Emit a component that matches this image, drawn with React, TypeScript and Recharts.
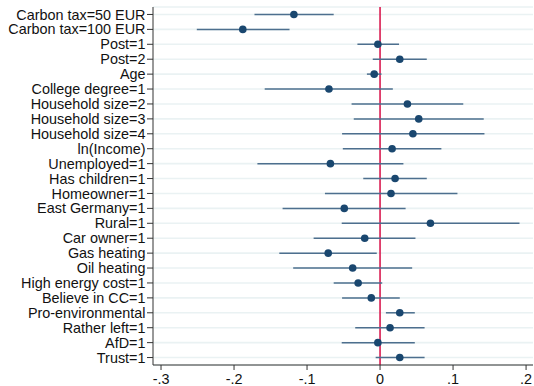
import React from "react";
import {
  ComposedChart,
  Scatter,
  ErrorBar,
  XAxis,
  YAxis,
  CartesianGrid,
  ReferenceLine,
} from "recharts";

const labels = [
  "Carbon tax=50 EUR",
  "Carbon tax=100 EUR",
  "Post=1",
  "Post=2",
  "Age",
  "College degree=1",
  "Household size=2",
  "Household size=3",
  "Household size=4",
  "ln(Income)",
  "Unemployed=1",
  "Has children=1",
  "Homeowner=1",
  "East Germany=1",
  "Rural=1",
  "Car owner=1",
  "Gas heating",
  "Oil heating",
  "High energy cost=1",
  "Believe in CC=1",
  "Pro-environmental",
  "Rather left=1",
  "AfD=1",
  "Trust=1",
];

const coefs = [
  -0.118, -0.188, -0.003, 0.027, -0.008, -0.07, 0.0375, 0.053, 0.045, 0.0165,
  -0.068, 0.0206, 0.015, -0.049, 0.069, -0.021, -0.071, -0.0375, -0.03, -0.012,
  0.027, 0.0137, -0.003, 0.027,
];

const ciLow = [
  -0.172, -0.251, -0.031, -0.01, -0.018, -0.158, -0.039, -0.036, -0.052, -0.051,
  -0.168, -0.023, -0.0755, -0.1335, -0.0525, -0.091, -0.138, -0.119, -0.0635,
  -0.052, 0.008, -0.034, -0.0525, -0.006,
];

const ciHigh = [
  -0.0635, -0.124, 0.026, 0.064, 0.002, 0.0175, 0.114, 0.142, 0.143, 0.084,
  0.032, 0.064, 0.106, 0.035, 0.191, 0.0485, -0.0045, 0.044, 0.003, 0.027,
  0.0476, 0.061, 0.0476, 0.061,
];

const xTicks = [-0.3, -0.2, -0.1, 0, 0.1, 0.2];

const rows = labels.map((name, i) => ({
  name,
  coef: coefs[i],
  err: [coefs[i] - ciLow[i], ciHigh[i] - coefs[i]],
}));

const fmt = (v: number) => {
  if (v === 0) return "0";
  const s = v.toFixed(1);
  return s.replace("0.", ".");
};

const FONT = "'Liberation Sans', Arial, sans-serif";

const Dot = (props: any) => {
  const { cx, cy } = props;
  if (cx == null || cy == null) return null;
  return <circle cx={cx} cy={cy} r={3.8} fill="#1a476f" />;
};

export default function App() {
  return (
    <div style={{ position: "absolute", left: 0, top: 0, background: "#fff" }}>
      <ComposedChart
        width={534}
        height={386}
        data={rows}
        layout="vertical"
        margin={{ top: 7, right: 1, left: 0, bottom: 0 }}
        style={{ fontFamily: FONT }}
      >
        <CartesianGrid
          horizontal={true}
          vertical={false}
          stroke="#eaf2f3"
          strokeWidth={1.6}
        />
        <XAxis
          type="number"
          dataKey="coef"
          domain={[-0.311, 0.2095]}
          allowDataOverflow
          ticks={xTicks}
          tickFormatter={fmt}
          height={21}
          tickSize={5}
          tickMargin={4}
          stroke="#333"
          tick={{ fill: "#111", fontSize: 14.4, fontFamily: FONT }}
          interval={0}
        />
        <YAxis
          type="category"
          dataKey="name"
          scale="band"
          width={153}
          tickSize={6}
          tickMargin={1.5}
          stroke="#333"
          interval={0}
          tick={{ fill: "#111", fontSize: 14.4, fontFamily: FONT }}
        />
        <ReferenceLine x={0} stroke="#d81b50" strokeWidth={1.6} />
        <Scatter dataKey="coef" isAnimationActive={false} shape={Dot}>
          <ErrorBar
            dataKey="err"
            direction="x"
            width={0}
            stroke="#4d6f8e"
            strokeWidth={1.5}
            isAnimationActive={false}
          />
        </Scatter>
      </ComposedChart>
    </div>
  );
}
